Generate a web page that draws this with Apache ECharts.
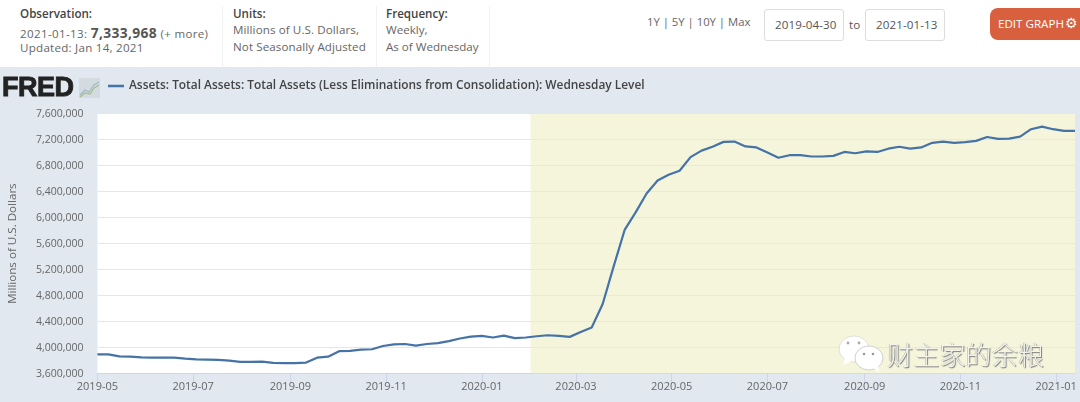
<!DOCTYPE html>
<html>
<head>
<meta charset="utf-8">
<script src="https://cdn.jsdelivr.net/npm/echarts@6/dist/echarts.min.js"></script>
<style>
html,body{margin:0;padding:0;background:#fff;}
body{width:1080px;height:402px;overflow:hidden;position:relative;font-family:"Open Sans",sans-serif;color:#666;font-size:11.6px;}
.abs{position:absolute;white-space:nowrap;}
.head{font-weight:600;color:#444;}
.sep{position:absolute;top:6px;height:61px;width:1px;background:#eef1f5;}
.inp{position:absolute;top:9px;height:30px;line-height:30px;width:68px;padding-left:10px;border:1px solid #ddd;border-radius:3px;overflow:hidden;white-space:nowrap;letter-spacing:.1px;color:#555;}
#main{position:absolute;left:0;top:67px;width:1080px;height:335px;}
</style>
</head>
<body>
<div class="abs head" style="left:20px;top:6px">Observation:</div>
<div class="abs" style="left:20px;top:23px;letter-spacing:.35px">2021-01-13: <b style="font-size:13.8px;color:#555">7,333,968</b> <span style="font-size:11.5px">(+ more)</span></div>
<div class="abs" style="left:20px;top:40px;letter-spacing:.25px">Updated: Jan 14, 2021</div>
<div class="sep" style="left:222px"></div>
<div class="abs head" style="left:233px;top:6px">Units:</div>
<div class="abs" style="left:233px;top:22px;letter-spacing:.1px">Millions of U.S. Dollars,</div>
<div class="abs" style="left:233px;top:39px;letter-spacing:.1px">Not Seasonally Adjusted</div>
<div class="sep" style="left:376px"></div>
<div class="abs head" style="left:386px;top:6px">Frequency:</div>
<div class="abs" style="left:386px;top:22px">Weekly,</div>
<div class="abs" style="left:386px;top:39px">As of Wednesday</div>
<div class="sep" style="left:489px"></div>
<div class="abs" style="left:647px;top:14px;font-size:11.3px">1Y | 5Y | 10Y | Max</div>
<div class="inp" style="left:764px">2019-04-30</div>
<div class="abs" style="left:849px;top:17px;color:#555">to</div>
<div class="inp" style="left:865px">2021-01-13</div>
<div class="abs" style="left:990px;top:8px;width:90px;height:32px;line-height:31px;background:#d9603f;border-radius:8px 0 0 8px;color:#fff;padding-left:8px;box-sizing:border-box;overflow:hidden">EDIT GRAPH<span style="font:14px 'DejaVu Sans';margin-left:1px">⚙</span></div>

<div id="main"></div>

<div class="abs" style="left:2px;top:72px;font:bold 27px/30px 'Liberation Sans';color:#222;-webkit-text-stroke:.9px #222;letter-spacing:-.5px">FRED</div>
<svg class="abs" style="left:79px;top:78px" width="21" height="20" viewBox="0 0 21 20">
  <rect width="21" height="20" fill="#d3dae0"/>
  <polyline points="1,17 6,12 10,14 15,7 20,4" fill="none" stroke="#9fb8c9" stroke-width="1.2"/>
  <polyline points="1,19 6,15 11,16 15,10 20,7" fill="none" stroke="#a5bd8a" stroke-width="1.2"/>
</svg>

<svg class="abs" style="left:838px;top:334px" width="48" height="42" viewBox="0 0 48 42">
  <ellipse cx="16" cy="15" rx="15" ry="13" fill="#fff" stroke="#ccc" stroke-width=".6"/>
  <path d="M7 24 L5 31 L14 27 Z" fill="#fff"/>
  <circle cx="10" cy="9" r="1.4" fill="#aaa"/><circle cx="21" cy="9" r="1.4" fill="#aaa"/>
  <ellipse cx="31" cy="24" rx="14" ry="12" fill="#fff" stroke="#bbb" stroke-width=".7"/>
  <path d="M36 34 L41 39 L40 31 Z" fill="#fff"/>
  <circle cx="26" cy="20" r="1.3" fill="#999"/><circle cx="35" cy="20" r="1.3" fill="#999"/>
</svg>
<div class="abs" style="left:887px;top:336px;font:300 26px/36px 'Noto Sans CJK SC';letter-spacing:.2px;color:#f4f4ee;text-shadow:1px 1px 1px #777,-.5px -.5px .5px #aaa">财主家的余粮</div>

<script>
var seriesName = "Assets: Total Assets: Total Assets (Less Eliminations from Consolidation): Wednesday Level";
var yAxisName = "Millions of U.S. Dollars";
var tickDates = ["2019-05-01","2019-07-01","2019-09-01","2019-11-01","2020-01-01","2020-03-01","2020-05-01","2020-07-01","2020-09-01","2020-11-01","2021-01-01"];
var recession = ["2020-02-01","2021-01-13"];

var dates = [
"2019-05-01","2019-05-08","2019-05-15","2019-05-22","2019-05-29","2019-06-05","2019-06-12","2019-06-19","2019-06-26",
"2019-07-03","2019-07-10","2019-07-17","2019-07-24","2019-07-31","2019-08-07","2019-08-14","2019-08-21","2019-08-28",
"2019-09-04","2019-09-11","2019-09-18","2019-09-25","2019-10-02","2019-10-09","2019-10-16","2019-10-23","2019-10-30",
"2019-11-06","2019-11-13","2019-11-20","2019-11-27","2019-12-04","2019-12-11","2019-12-18","2019-12-25",
"2020-01-01","2020-01-08","2020-01-15","2020-01-22","2020-01-29","2020-02-05","2020-02-12","2020-02-19","2020-02-26",
"2020-03-04","2020-03-11","2020-03-18","2020-03-25","2020-04-01","2020-04-08","2020-04-15","2020-04-22","2020-04-29",
"2020-05-06","2020-05-13","2020-05-20","2020-05-27","2020-06-03","2020-06-10","2020-06-17","2020-06-24",
"2020-07-01","2020-07-08","2020-07-15","2020-07-22","2020-07-29","2020-08-05","2020-08-12","2020-08-19","2020-08-26",
"2020-09-02","2020-09-09","2020-09-16","2020-09-23","2020-09-30","2020-10-07","2020-10-14","2020-10-21","2020-10-28",
"2020-11-04","2020-11-11","2020-11-18","2020-11-25","2020-12-02","2020-12-09","2020-12-16","2020-12-23","2020-12-30",
"2021-01-06","2021-01-13"];

var totalAssets = [
3896000,3896000,3865000,3860000,3850000,3845000,3847000,3845000,3830000,
3820000,3816000,3810000,3800000,3780000,3780000,3785000,3765000,3760000,
3760000,3770000,3845000,3860000,3945000,3950000,3970000,3975000,4025000,
4050000,4055000,4030000,4055000,4070000,4100000,4140000,4170000,
4180000,4155000,4185000,4145000,4155000,4175000,4190000,4180000,4165000,
4240000,4310000,4670000,5250000,5810000,6080000,6370000,6570000,6660000,
6720000,6930000,7030000,7090000,7165000,7170000,7095000,7080000,
7000000,6920000,6960000,6960000,6940000,6940000,6950000,7010000,6990000,
7020000,7010000,7060000,7090000,7060000,7080000,7150000,7170000,7150000,
7160000,7180000,7240000,7210000,7215000,7245000,7360000,7400000,7360000,
7335000,7333968];

function toTime(d){ return +echarts.time.parse(d); }

var myChart = echarts.init(document.getElementById("main"));
myChart.setOption({
    animation: false,
    backgroundColor: "#e1e8f0",
    textStyle: { fontFamily: "Open Sans" },
    legend: {
        left: 108,
        top: 13,
        padding: 0,
        itemWidth: 16,
        itemHeight: 8,
        itemGap: 3,
        textStyle: { color: "#444", fontSize: 11.9, fontWeight: 600, fontFamily: "Open Sans" },
        data: [{ name: seriesName, icon: "path://M0 0H16V2.5H0Z" }]
    },
    grid: {
        left: 97.4,
        right: 5,
        top: 46.6,
        bottom: 28.4,
        outerBoundsMode: "none",
        show: true,
        backgroundColor: "#fff",
        borderWidth: 0
    },
    // plain value axis on timestamps, the month ticks are listed in tickDates
    xAxis: {
        type: "value",
        min: toTime(dates[0]),
        max: toTime(dates[dates.length - 1]),
        splitLine: { show: false },
        axisLine: { onZero: false, lineStyle: { color: "#ccd6eb" } },
        axisTick: {
            length: 9,
            lineStyle: { color: "#ccd6eb" },
            customValues: tickDates.map(toTime)
        },
        axisLabel: {
            color: "#666",
            fontSize: 11,
            margin: 8,
            hideOverlap: false,
            showMinLabel: true,
            showMaxLabel: true,
            customValues: tickDates.map(toTime),
            formatter: function (v) { return echarts.time.format(v, "{yyyy}-{MM}", false); }
        }
    },
    yAxis: {
        type: "value",
        min: 3600000,
        max: 7600000,
        interval: 400000,
        name: yAxisName,
        nameLocation: "middle",
        nameGap: 79,
        nameTextStyle: { color: "#666", fontSize: 11.6 },
        axisLine: { show: false },
        axisTick: { show: false },
        splitLine: { lineStyle: { color: "#e6e6e6" } },
        axisLabel: {
            color: "#666",
            fontSize: 10.5,
            margin: 14,
            formatter: function (v) { return v.toLocaleString("en-US"); }
        }
    },
    series: [{
        name: seriesName,
        type: "line",
        showSymbol: false,
        color: "#4572a7",
        lineStyle: { width: 2.2, color: "#4572a7" },
        data: dates.map(function (d, i) { return [toTime(d), totalAssets[i]]; }),
        markArea: {
            silent: true,
            itemStyle: { color: "rgba(237,237,190,0.55)" },
            data: [[{ xAxis: toTime(recession[0]) }, { xAxis: toTime(recession[1]) }]]
        }
    }]
});
</script>
</body>
</html>
